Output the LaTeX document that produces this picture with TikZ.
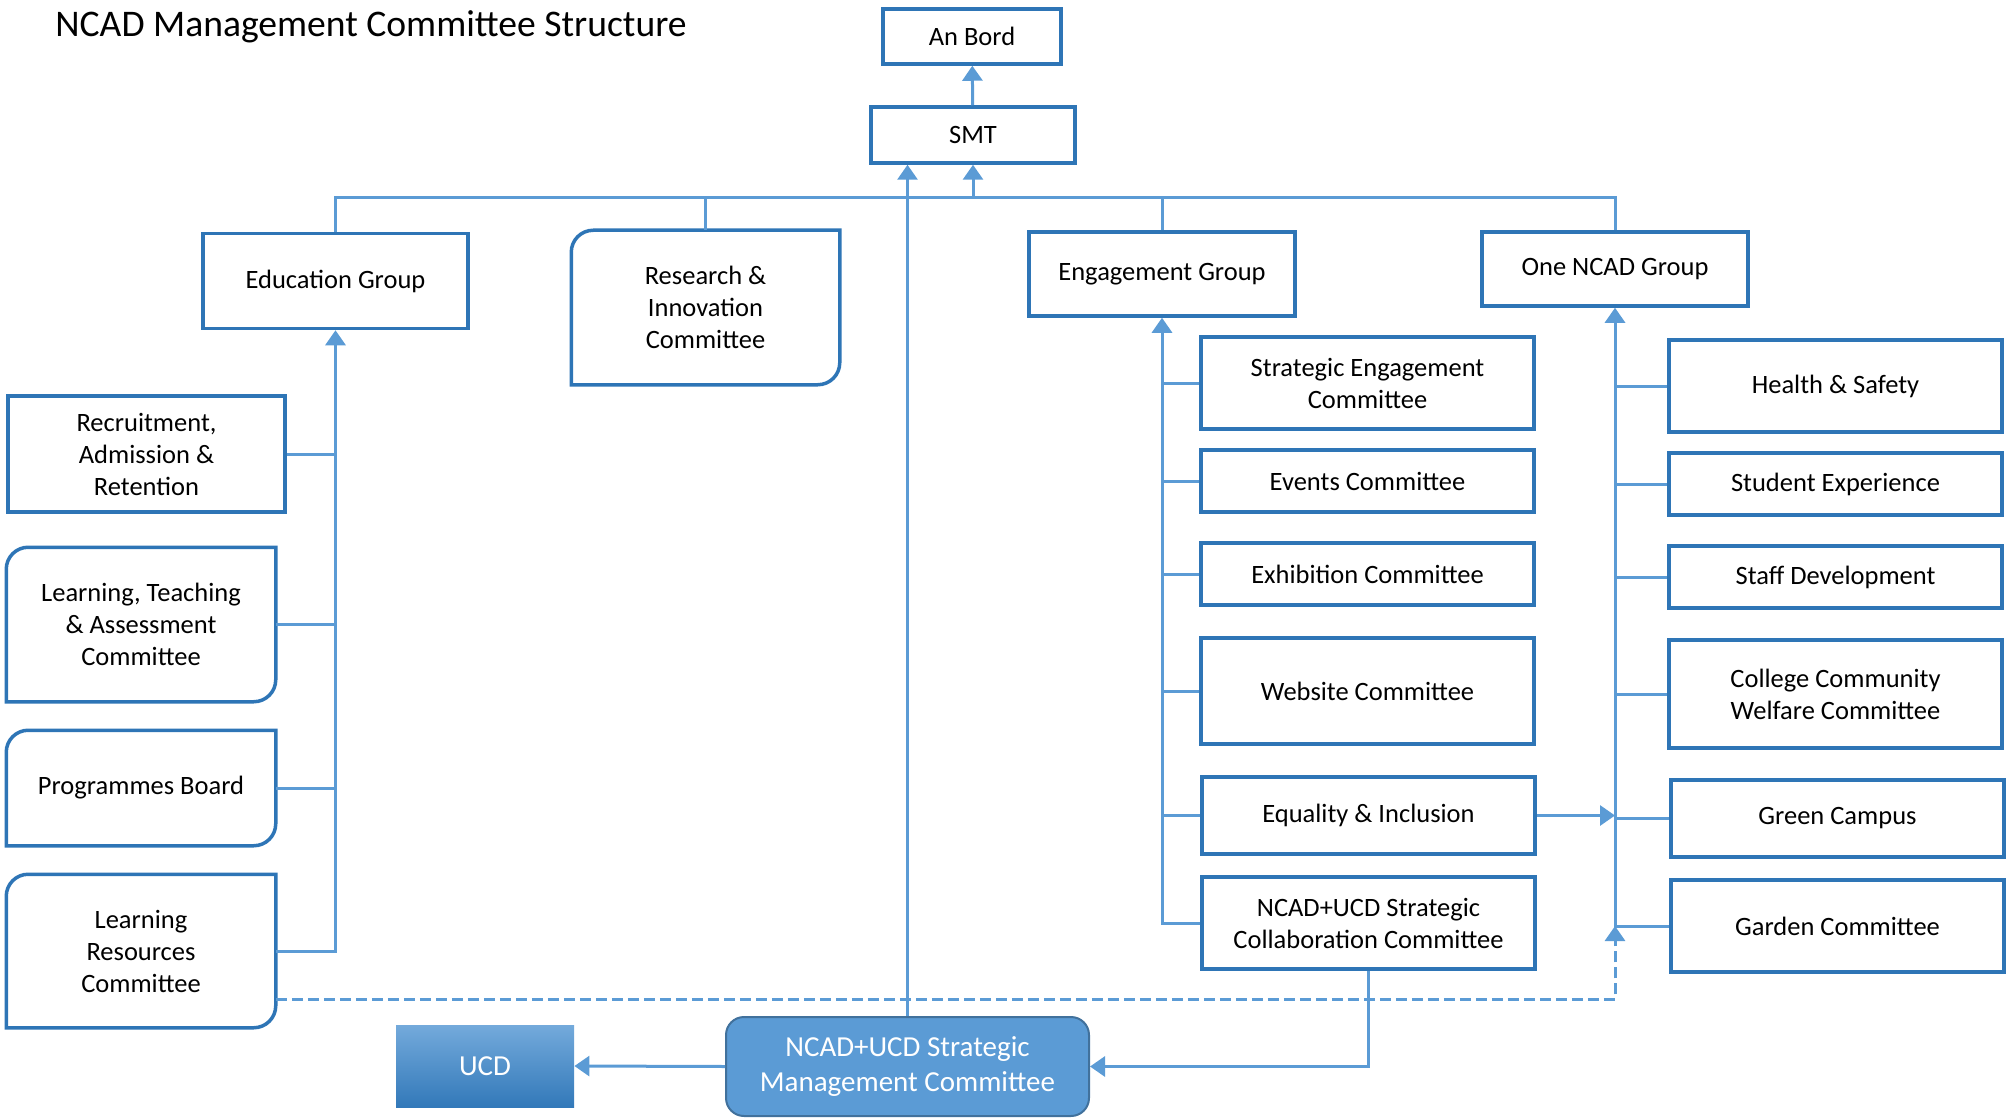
\documentclass[tikz,border=0pt]{standalone}
\usepackage{fontspec}
\setmainfont{Carlito}
\usetikzlibrary{arrows.meta, shapes.geometric}

\definecolor{boxblue}{RGB}{46,117,182}
\definecolor{linkblue}{RGB}{91,155,213}
\definecolor{smcline}{RGB}{65,113,156}
\newcommand\boxfont{\fontsize{13.25}{16}\selectfont}
\newcommand\bigboxfont{\fontsize{14.5}{17.5}\selectfont}
\newcommand\titlefont{\fontsize{18.8}{22}\selectfont}

\begin{document}
\begin{tikzpicture}[x=0.5pt, y=0.5pt]
        \tikzstyle{box} = [rectangle, draw=boxblue, line width=1.75pt, align=center, inner sep=0pt, font=\boxfont];
        \tikzstyle{softbox} = [box, draw=none];
        \tikzstyle{boxline} = [draw=boxblue, line width=1.75pt];
        \tikzstyle{link} = [draw=linkblue, line width=1.5pt];
        \tikzstyle{linkarrow} = [link, -{Triangle[length=7.5pt, width=10pt]}];
        \tikzstyle{dashlink} = [linkarrow, dash pattern=on 5.5pt off 2.5pt];
        \tikzstyle{colbox} = [box, minimum width=166.5pt];

        \useasboundingbox (0,0) rectangle (2012,-1118);
        \node (title) [anchor=base west, inner sep=0pt, font=\titlefont] at (55,-37) {NCAD Management Committee Structure};

        % top of the tree
        \node (anbord) [box, minimum width=89pt, minimum height=27.5pt] at (972,-36.5) {An Bord};
        \node (smt) [box, minimum width=102pt, minimum height=28pt] at (973,-135) {SMT};
        \coordinate (bus) at (973,-198);

        % groups
        \node (edu) [box, minimum width=132.5pt, minimum height=47.5pt] at (335.5,-281) {Education Group};
        \node (research) [softbox, minimum width=132.5pt, minimum height=75.5pt] at (705.5,-307.5) {Research \&\\Innovation\\Committee};
        \node (engage) [box, minimum width=133pt, minimum height=42pt] at (1162,-274) {Engagement Group};
        \node (onencad) [box, minimum width=133pt, minimum height=37pt] at (1615,-269) {One NCAD Group};

        % education committees
        \node (recruit) [box, minimum width=138.5pt, minimum height=58pt] at (146.5,-454) {Recruitment,\\Admission \&\\Retention};
        \node (ltac) [softbox, minimum width=133pt, minimum height=75.5pt] at (141,-624.5) {Learning, Teaching\\\& Assessment\\Committee};
        \node (progboard) [softbox, minimum width=133pt, minimum height=56pt] at (141,-788) {Programmes Board};
        \node (lrc) [softbox, minimum width=133pt, minimum height=75pt] at (141,-951) {Learning\\Resources\\Committee};

        % engagement committees
        \node (sec) [colbox, minimum height=46pt] at (1367.5,-383) {Strategic Engagement\\Committee};
        \node (events) [colbox, minimum height=31pt] at (1367.5,-481) {Events Committee};
        \node (exhib) [colbox, minimum height=31pt] at (1367.5,-574) {Exhibition Committee};
        \node (website) [colbox, minimum height=53pt] at (1367.5,-691) {Website Committee};
        \node (equality) [colbox, minimum height=38.5pt] at (1368.5,-815.5) {Equality \& Inclusion};
        \node (collab) [colbox, minimum height=46pt] at (1368.5,-923) {NCAD+UCD Strategic\\Collaboration Committee};

        % one ncad committees
        \node (health) [colbox, minimum height=46pt] at (1835.5,-386) {Health \& Safety};
        \node (student) [colbox, minimum height=31pt] at (1835.5,-484) {Student Experience};
        \node (staff) [colbox, minimum height=31pt] at (1835.5,-577) {Staff Development};
        \node (college) [colbox, minimum height=54pt] at (1835.5,-694) {College Community\\Welfare Committee};
        \node (green) [colbox, minimum height=38.5pt] at (1837.5,-818.5) {Green Campus};
        \node (garden) [colbox, minimum height=46pt] at (1837.5,-926) {Garden Committee};

        % bottom
        \node (ucd) [rectangle, inner sep=0pt, minimum width=89pt, minimum height=41pt, top color=linkblue!85!white, bottom color=boxblue!90!linkblue, text=white, font=\bigboxfont] at (485,-1066) {UCD};
        \node (smc) [rectangle, rounded corners=9pt, draw=smcline, line width=1pt, fill=linkblue, text=white, align=center, inner sep=0pt, minimum width=181.5pt, minimum height=49.5pt, font=\bigboxfont] at (907.5,-1066.5) {NCAD+UCD Strategic\\Management Committee};

        % boxes with two round corners
        \foreach \n in {research, ltac, progboard, lrc}
            \draw[boxline] ([xshift=11pt]\n.north west) -- (\n.north east) -- ([yshift=11pt]\n.south east) arc[start angle=0, end angle=-90, radius=11pt] -- (\n.south west) -- ([yshift=-11pt]\n.north west) arc[start angle=180, end angle=90, radius=11pt] -- cycle;

        % connectors
        \draw[linkarrow] (smt) -- (anbord);
        \draw[link] (edu.north) |- (bus) -| (onencad.north);
        \draw[link] (research.north) |- (bus);
        \draw[link] (engage.north) |- (bus);
        \draw[linkarrow] (bus) -- (smt.south);
        \draw[linkarrow] (smc.north) -- (smc.north |- smt.south);

        \draw[linkarrow] (lrc.east) -| (edu.south);
        \foreach \n in {recruit, ltac, progboard}
            \draw[link] (\n.east) -- (\n.east -| edu.south);

        \draw[linkarrow] (collab.west) -| (engage.south);
        \foreach \n in {sec, events, exhib, website, equality}
            \draw[link] (\n.west) -- (\n.west -| engage.south);

        \draw[linkarrow] (garden.west) -| (onencad.south);
        \foreach \n in {health, student, staff, college, green}
            \draw[link] (\n.west) -- (\n.west -| onencad.south);

        \draw[linkarrow] (equality.east) -- (equality.east -| onencad.south);
        \draw[dashlink] ([yshift=-24pt]lrc.east) -| (garden.west -| onencad.south);
        \draw[linkarrow] (collab.south) |- (smc.east);
        \draw[linkarrow] (smc.west) -- (ucd.east);

    \end{tikzpicture}
\end{document}
